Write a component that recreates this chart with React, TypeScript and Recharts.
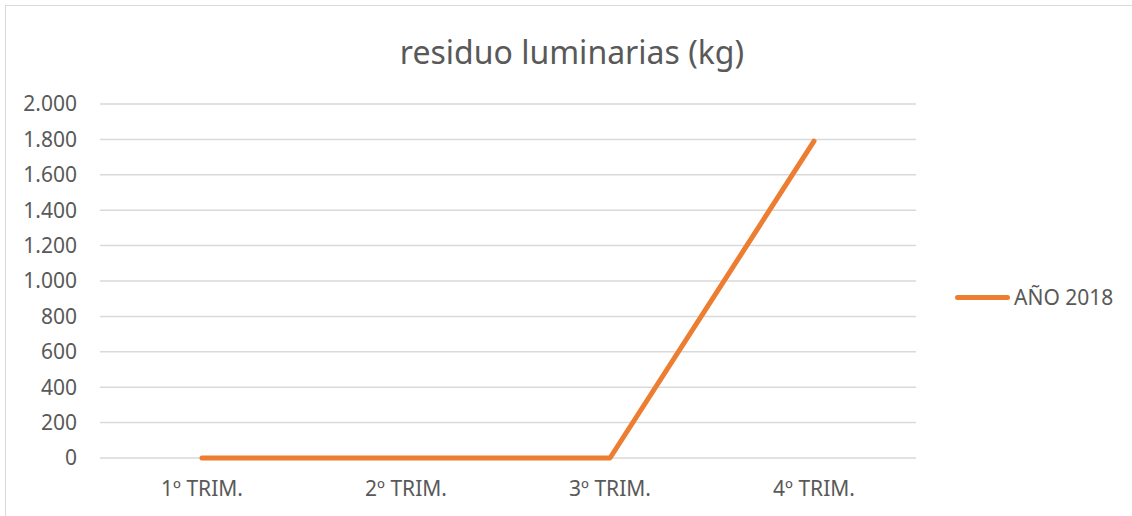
import React from "react";
import { LineChart, Line, XAxis, YAxis, CartesianGrid } from "recharts";

const categories = ["1º TRIM.", "2º TRIM.", "3º TRIM.", "4º TRIM."];
const values2018 = [0, 0, 0, 1790];
const yTicks = [0, 200, 400, 600, 800, 1000, 1200, 1400, 1600, 1800, 2000];
const seriesName = "AÑO 2018";
const title = "residuo luminarias (kg)";

const data = categories.map((c, i) => ({ cat: c, v: values2018[i] }));

const fmt = (v: number) => String(v).replace(/\B(?=(\d{3})+(?!\d))/g, ".");

const FONT = "'Noto Sans', sans-serif";
const TXT = "#595959";
const GRID = "#d9d9d9";
const ORANGE = "#ed7d31";

export default function App() {
  return (
    <div style={{ position: "absolute", left: 0, top: 0, width: 1132, height: 516, overflow: "hidden", background: "#fff", fontFamily: FONT }}>
      <div style={{ position: "absolute", left: 5, top: 5, width: 1200, height: 600, border: `1.5px solid ${GRID}` }} />
      <div style={{ position: "absolute", left: 0, top: 36, width: 1144, textAlign: "center", fontSize: 32, lineHeight: "32px", color: TXT }}>
        {title}
      </div>
      <div style={{ position: "absolute", left: 0, top: 0 }}>
        <LineChart width={1132} height={516} data={data} margin={{ top: 104, right: 216, bottom: 0, left: 0 }}>
          <CartesianGrid vertical={false} stroke={GRID} strokeWidth={1.5} />
          <XAxis
            dataKey="cat"
            height={58}
            padding={{ left: 102, right: 102 }}
            tickLine={false}
            axisLine={false}
            tick={{ fill: TXT, fontSize: 21, fontFamily: FONT }}
            tickMargin={17}
          />
          <YAxis
            width={100}
            domain={[0, 2000]}
            ticks={yTicks}
            interval={0}
            tickFormatter={fmt}
            axisLine={false}
            tickLine={false}
            tickMargin={17}
            tick={{ fill: TXT, fontSize: 21, fontFamily: FONT }}
          />
          <Line
            type="linear"
            dataKey="v"
            name={seriesName}
            stroke={ORANGE}
            strokeWidth={5}
            strokeLinecap="round"
            strokeLinejoin="round"
            dot={false}
            activeDot={false}
            isAnimationActive={false}
          />
        </LineChart>
      </div>
      <div style={{ position: "absolute", left: 955, top: 284, display: "flex", alignItems: "center", height: 26 }}>
        <span style={{ display: "inline-block", width: 55, height: 5, borderRadius: 3, background: ORANGE }} />
        <span style={{ marginLeft: 4, fontSize: 21, color: TXT, lineHeight: "26px" }}>{seriesName}</span>
      </div>
    </div>
  );
}
